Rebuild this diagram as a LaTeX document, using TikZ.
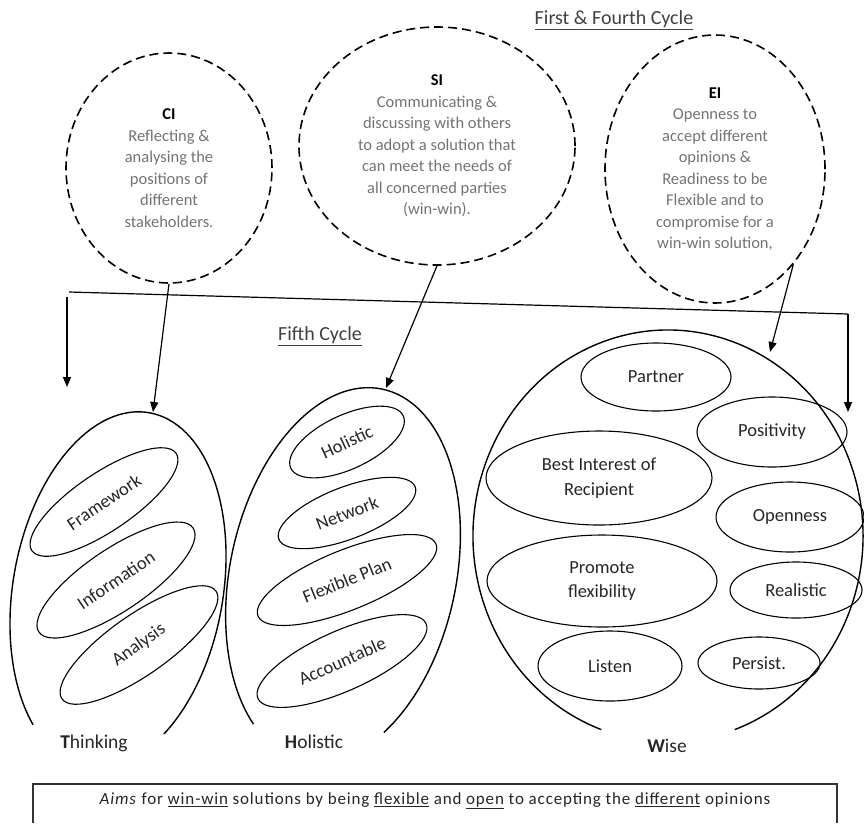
\documentclass[tikz,border=0pt]{standalone}
\usepackage{fontspec}
\setmainfont{Carlito}
\usetikzlibrary{shapes.geometric,arrows.meta}

\begin{document}
\begin{tikzpicture}[x=1pt,y=-1pt,
  cyclebox/.style={ellipse, draw, dash pattern=on 9pt off 5pt, line width=1.6pt,
    inner sep=0pt, align=center, text=black!55,
    font=\fontsize{16.5}{21.5}\selectfont},
  trait/.style={ellipse, draw, line width=1.1pt, inner sep=0pt},
  tname/.style={inner sep=0pt, align=center, text=black!85,
    font=\fontsize{18.5}{24.5}\selectfont},
  group/.style={line width=1.4pt},
  link/.style={line width=1.2pt, -{Triangle[width=8pt,length=10pt]}},
  heading/.style={font=\fontsize{20}{24}\selectfont, text=black!75},
  lbl/.style={anchor=base, font=\fontsize{19.5}{24}\selectfont, text=black!85},
]
\useasboundingbox (0,0) rectangle (864,823);

% headings
\node[heading] (t1) at (614,20) {\underline{First \& Fourth Cycle}};
\node[heading] (t5) at (320,336) {\underline{Fifth Cycle}};

% dashed cycle ellipses
\node[cyclebox, minimum width=206pt, minimum height=230pt] (ci) at (169,168)
  {\textbf{\color{black}CI}\\Reflecting \&\\analysing the\\positions of\\different\\stakeholders.};
\node[cyclebox, minimum width=276pt, minimum height=238pt] (si) at (437,146)
  {\textbf{\color{black}SI}\\Communicating \&\\discussing with others\\to adopt a solution that\\can meet the needs of\\all concerned parties\\(win-win).};
\node[cyclebox, minimum width=220pt, minimum height=268pt] (ei) at (715,169)
  {\textbf{\color{black}EI}\\Openness to\\accept different\\opinions \&\\Readiness to be\\Flexible and to\\compromise for a\\win-win solution,};

% bracket line with its two downward arrows
\coordinate (bl) at (69,292);
\coordinate (br) at (848,314);
\coordinate (lt) at (67,297);
\coordinate (lb) at (67,387);
\coordinate (rb) at (848,412);
\draw[line width=1.2pt] (bl) -- (br);
\draw[link] (lt) -- (lb);
\draw[link] (br) -- (rb);

% open group outlines
\begin{scope}[shift={(118,590)}, rotate=-10]
  \draw[group] (-48:105pt and 180pt) arc[start angle=-48, end angle=235, x radius=105pt, y radius=180pt];
\end{scope}
\begin{scope}[shift={(343,575)}, rotate=-12]
  \draw[group] (-50:113pt and 190pt) arc[start angle=-50, end angle=240, x radius=113pt, y radius=190pt];
\end{scope}
\draw[group] (668,536) ++(-70:195pt and 206pt) arc[start angle=-70, end angle=250, x radius=195pt, y radius=206pt];

\coordinate (thinktop) at (153,412);
\coordinate (holtop) at (386,388);
\coordinate (wisetop) at (770,352);

% arrows from the cycles into the groups
\draw[link] (ci.south) -- (thinktop);
\draw[link] (si.south) -- (holtop);
\draw[link] (ei.south east) -- (wisetop);

% Thinking traits
\node[trait, rotate=34, minimum width=174pt, minimum height=58pt] (fw) at (104,502) {};
\node[trait, rotate=34, minimum width=186pt, minimum height=62pt] (inf) at (116,580) {};
\node[trait, rotate=35, minimum width=188pt, minimum height=60pt] (ana) at (139,645) {};
\node[tname, rotate=34] (fwt) at (fw.center) {Framework};
\node[tname, rotate=34] (inft) at (inf.center) {Information};
\node[tname, rotate=35] (anat) at (ana.center) {Analysis};

% Holistic traits
\node[trait, rotate=25, minimum width=124pt, minimum height=54pt] (hol) at (347,442) {};
\node[trait, rotate=21, minimum width=146pt, minimum height=52pt] (net) at (347,513) {};
\node[trait, rotate=22, minimum width=192pt, minimum height=60pt] (flex) at (347,580) {};
\node[trait, rotate=24, minimum width=184pt, minimum height=60pt] (acc) at (342,661) {};
\node[tname, rotate=25] (holt) at (hol.center) {Holistic};
\node[tname, rotate=21] (nett) at (net.center) {Network};
\node[tname, rotate=22] (flext) at (flex.center) {Flexible Plan};
\node[tname, rotate=24] (acct) at (acc.center) {Accountable};

% Wise traits
\node[trait, minimum width=150pt, minimum height=68pt] (par) at (656,377) {};
\node[trait, minimum width=150pt, minimum height=70pt] (pos) at (772,432) {};
\node[trait, minimum width=226pt, minimum height=94pt] (bir) at (599,478) {};
\node[trait, minimum width=148pt, minimum height=70pt] (opn) at (790,517) {};
\node[trait, minimum width=230pt, minimum height=92pt] (pfx) at (602,581) {};
\node[trait, minimum width=132pt, minimum height=56pt] (rea) at (796,590) {};
\node[trait, minimum width=144pt, minimum height=70pt] (lis) at (610,666) {};
\node[trait, minimum width=122pt, minimum height=52pt] (per) at (759,663) {};
\node[tname] (part) at (par.center) {Partner};
\node[tname] (post) at (pos.center) {Positivity};
\node[tname] (birt) at (bir.center) {Best Interest of\\Recipient};
\node[tname] (opnt) at (opn.center) {Openness};
\node[tname] (pfxt) at (pfx.center) {Promote\\flexibility};
\node[tname] (reat) at (rea.center) {Realistic};
\node[tname] (list) at (lis.center) {Listen};
\node[tname] (pert) at (per.center) {Persist.};

% group labels
\node[lbl] (lthink) at (94,748) {\textbf{T}hinking};
\node[lbl] (lhol) at (314,748) {\textbf{H}olistic};
\node[lbl] (lwise) at (667,752) {\textbf{W}ise};

% summary box, open at the page edge
\coordinate (b1) at (33,823);
\coordinate (b2) at (33,784);
\coordinate (b3) at (837,784);
\coordinate (b4) at (837,823);
\draw[line width=1.3pt, black!80] (b1) -- (b2) -- (b3) -- (b4);
\node[font=\fontsize{17}{20}\selectfont\addfontfeature{LetterSpace=5}, text=black!85] (aim) at (435,801)
  {\textit{Aims} for \underline{win-win} solutions by being \underline{flexible} and \underline{open} to accepting the \underline{different} opinions};
\end{tikzpicture}
\end{document}
